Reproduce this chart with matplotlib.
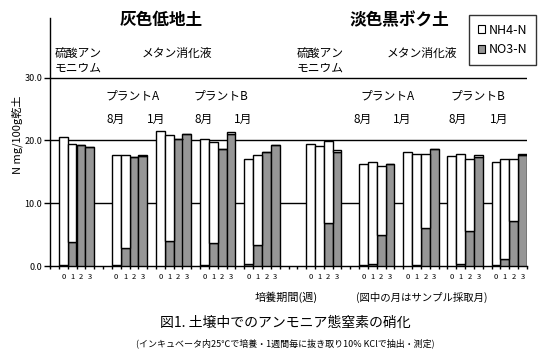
# coding=utf-8
import numpy as np
import matplotlib
matplotlib.use('Agg')
import matplotlib.pyplot as plt
from matplotlib.patches import Patch

plt.rcParams['font.family'] = ['Noto Sans CJK JP', 'DejaVu Sans']

# 10 groups x 4 weeks (0,1,2,3); NO3-N at the bottom, NH4-N stacked on top
weeks = ['0', '1', '2', '3']
no3 = [
    [0.2, 3.8, 19.2, 18.9],
    [0.2, 2.9, 17.3, 17.45],
    [0.0, 4.0, 20.2, 21.1],
    [0.2, 3.6, 18.7, 21.1],
    [0.3, 3.3, 18.2, 19.35],
    [0.0, 0.0, 6.8, 18.1],
    [0.2, 0.35, 5.0, 16.3],
    [0.0, 0.2, 6.0, 18.7],
    [0.0, 0.35, 5.5, 17.4],
    [0.2, 1.1, 7.15, 17.6],
]
nh4 = [
    [20.4, 15.6, 0.0, 0.0],
    [17.4, 14.7, 0.0, 0.2],
    [21.45, 16.8, 0.0, 0.0],
    [20.1, 16.1, 0.0, 0.2],
    [16.8, 14.35, 0.0, 0.0],
    [19.5, 19.1, 13.1, 0.45],
    [16.0, 16.15, 11.0, 0.0],
    [18.1, 17.6, 11.9, 0.0],
    [17.5, 17.55, 11.5, 0.2],
    [16.3, 15.9, 9.95, 0.2],
]
# empty categories before each group (excel style blank columns)
blank_before = [1, 2, 1, 1, 1, 3, 2, 1, 1, 1]

W, H = 553, 351
fig = plt.figure(figsize=(W / 100, H / 100), dpi=100)
ax = fig.add_axes([50 / W, 1 - 266 / H, 477 / W, 248 / H])

def px(x, y):
    return x / W, 1 - y / H

# x positions of every bar
xs = []
pos = 0
for g in range(len(no3)):
    pos += blank_before[g]
    for k in range(4):
        xs.append(pos)
        pos += 1
xs = np.array(xs)
n_cat = pos

v_no3 = np.array(no3).ravel()
v_nh4 = np.array(nh4).ravel()

gray = '#969696'
ax.bar(xs, v_no3, width=1, align='edge', color=gray, edgecolor='black', linewidth=1, zorder=3)
ax.bar(xs, v_nh4, width=1, align='edge', bottom=v_no3, color='white', edgecolor='black', linewidth=1, zorder=3)

ax.set_xlim(0, n_cat)
ax.set_ylim(0, 39.5)

for v in [10, 20, 30]:
    ax.axhline(v, color='black', linewidth=1, zorder=1)

ax.spines['top'].set_visible(False)
ax.spines['right'].set_visible(False)
ax.spines['left'].set_linewidth(1)
ax.spines['bottom'].set_linewidth(1)

ax.set_yticks([0, 10, 20, 30])
ax.set_yticklabels(['0.0', '10.0', '20.0', '30.0'], fontsize=6.5)
ax.tick_params(axis='y', direction='out', length=4, width=1, pad=1.5)

ax.set_xticks(xs + 0.5)
ax.set_xticklabels(weeks * len(no3), fontsize=5.5)
ax.set_xticks(np.arange(0, n_cat + 1), minor=True)
ax.tick_params(axis='x', which='major', length=0, pad=5)
ax.tick_params(axis='x', which='minor', direction='out', length=2.5, width=1)

fig.text(*px(17, 135), 'N mg/100g乾土', rotation=90, ha='center', va='center', fontsize=8)

# soil titles
fig.text(*px(161, 20), '灰色低地土', ha='center', va='center', fontsize=12, fontweight='bold')
fig.text(*px(399, 20), '淡色黒ボク土', ha='center', va='center', fontsize=12, fontweight='bold')

# treatment labels
for x0, xm in [(55, 177), (297, 422)]:
    fig.text(*px(x0, 53), '硫酸アン', ha='left', va='center', fontsize=8.5)
    fig.text(*px(x0, 68), 'モニウム', ha='left', va='center', fontsize=8.5)
    fig.text(*px(xm, 53), 'メタン消化液', ha='center', va='center', fontsize=8.5)

for x, s in [(133, 'プラントA'), (221, 'プラントB'), (388, 'プラントA'), (478, 'プラントB')]:
    fig.text(*px(x, 96), s, ha='center', va='center', fontsize=8.5)
for x, s in [(116, '8月'), (156, '1月'), (204, '8月'), (243, '1月'),
             (363, '8月'), (402, '1月'), (458, '8月'), (499, '1月')]:
    fig.text(*px(x, 119), s, ha='center', va='center', fontsize=8.5)

fig.text(*px(286, 297), '培養期間(週)', ha='center', va='center', fontsize=8)
fig.text(*px(422, 297), '(図中の月はサンプル採取月)', ha='center', va='center', fontsize=7.5)
fig.text(*px(285, 323), '図1. 土壌中でのアンモニア態窒素の硝化', ha='center', va='center', fontsize=10)
fig.text(*px(285, 343), '(インキュベータ内25℃で培養・1週間毎に抜き取り10% KClで抽出・測定)',
         ha='center', va='center', fontsize=6.5)

handles = [Patch(facecolor='white', edgecolor='black', linewidth=0.8),
           Patch(facecolor=gray, edgecolor='black', linewidth=0.8)]
leg = fig.legend(handles, ['NH4-N', 'NO3-N'], loc='upper left', bbox_to_anchor=px(469, 15),
                 fontsize=9, frameon=True, fancybox=False, edgecolor='black',
                 handlelength=0.6, handleheight=0.6, handletextpad=0.3,
                 labelspacing=0.5, borderpad=0.7, borderaxespad=0)
leg.get_frame().set_linewidth(1)

fig.savefig('out.png', dpi=100)
